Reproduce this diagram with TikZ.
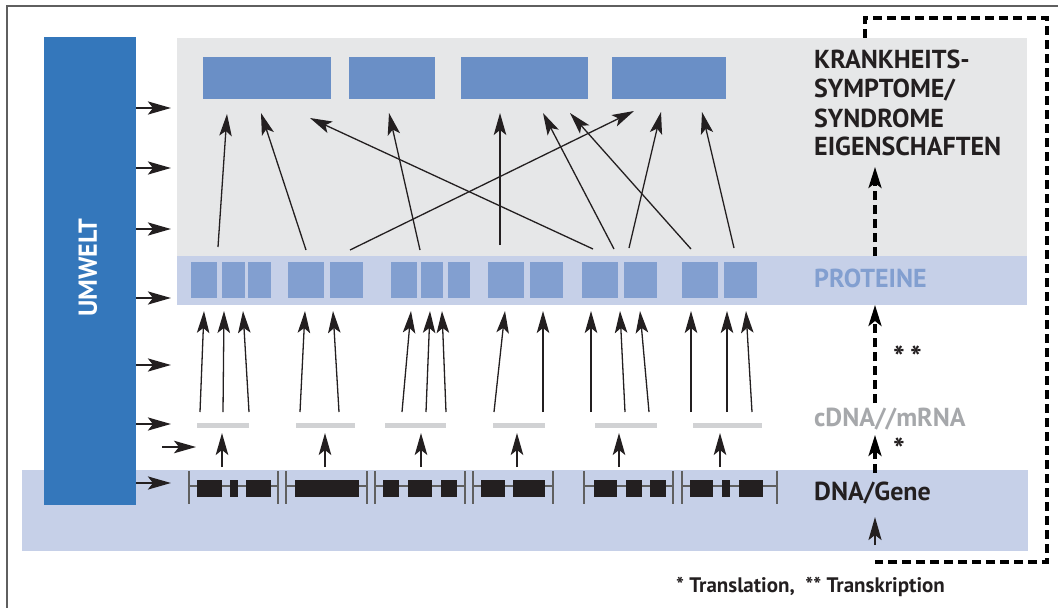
\documentclass[tikz,border=0pt]{standalone}
\usepackage{fontspec}
\setmainfont{PT Sans}
\usetikzlibrary{arrows.meta}
\definecolor{umweltblue}{HTML}{3477BB}
\definecolor{panelgray}{HTML}{E6E7E8}
\definecolor{bandblue}{HTML}{C6D0E8}
\definecolor{symblue}{HTML}{6A8FC6}
\definecolor{protblue}{HTML}{829FD0}
\definecolor{rnagray}{HTML}{D1D2D4}
\definecolor{rnatext}{HTML}{A6A8AB}
\definecolor{inkblack}{HTML}{231F20}
\definecolor{framegray}{HTML}{5F5F5F}
\tikzset{
  thinarrow/.style={draw=inkblack, line width=1.3pt, -{Stealth[length=22pt,width=12.5pt,inset=5pt]}},
  envarrow/.style={draw=inkblack, line width=2.6pt, -{Stealth[length=23pt,width=13pt,inset=5pt]}},
  dasharrow/.style={draw=black, line width=3.3pt, dash pattern=on 9pt off 5pt, -{Stealth[length=21pt,width=13pt,inset=5pt]}},
  loopline/.style={draw=black, line width=3.3pt, dash pattern=on 9pt off 5pt},
  geneline/.style={draw=framegray, line width=1.2pt},
  genetick/.style={draw=framegray, line width=1.8pt},
  levellabel/.style={anchor=base west, inner sep=0pt, font=\bfseries\fontsize{26}{29}\selectfont, text=inkblack},
}
\begin{document}
\begin{tikzpicture}[x=1pt,y=-1pt]
\useasboundingbox (0,0) rectangle (1058,608);
% frame
\draw[framegray, line width=1.6pt] (7,608) -- (7,6) -- (1058,6);
% dashed feedback loop (behind the panels)
\coordinate (loopstart) at (865,38);
\coordinate (loopend) at (875,562);
\draw[loopline] (loopstart) -- (865,18) -- (1047,18) -- (1047,562) -- (loopend);
% panels
\fill[panelgray] (177,38) rectangle (1027,256);
\fill[bandblue] (177,256) rectangle (1027,305);
\fill[bandblue] (22,470) rectangle (1028,551);
\fill[umweltblue] (44,37) rectangle (136,505);
\node[rotate=90, font=\bfseries\fontsize{26}{29}\selectfont, text=white] (umwelt) at (88,268) {UMWELT};
% symptom boxes
\foreach \a/\b in {203/331, 349/435, 461/588, 612/726}
  \fill[symblue] (\a,57) rectangle (\b,99);
% proteins
\foreach \a/\b in {191/217, 222/245, 248/271, 288/324, 330/363, 391/417, 421/443, 448/470,
                   488/524, 530/563, 582/618, 624/657, 682/718, 724/757}
  \fill[protblue] (\a,262) rectangle (\b,298);
% cDNA / mRNA
\foreach \a/\b in {197/249, 296/355, 385/446, 493/545, 595/657, 693/762}
  \fill[rnagray] (\a,423) rectangle (\b,428);
% genes
\foreach \l/\r in {189/278, 286/367, 375/465, 473/553, 584/673, 682/777}{
  \draw[geneline] (\l,486) -- (\r,486);
  \draw[genetick] (\l,471) -- (\l,504);
  \draw[genetick] (\r,471) -- (\r,504);
}
\foreach \a/\b in {197/222, 230/238, 246/271, 295/359, 383/399, 408/432, 441/457, 481/505,
                   513/545, 594/617, 626/642, 650/666, 690/713, 722/730, 739/763}
  \fill[inkblack] (\a,480) rectangle (\b,497);
% environment arrows
\foreach \y [count=\i] in {108, 168, 229, 298, 365, 424, 483}{
  \coordinate (env\i) at (136,\y);
  \coordinate (envtip\i) at (171,\y);
  \draw[envarrow] (env\i) -- (envtip\i);
}
\coordinate (env8) at (162,447);
\coordinate (envtip8) at (196,447);
\draw[thinarrow, line width=1.6pt] (env8) -- (envtip8);
% DNA -> mRNA
\foreach \x [count=\i] in {222, 325, 421, 517, 619, 720}{
  \coordinate (gene\i) at (\x,467);
  \coordinate (rna\i) at (\x,433);
  \draw[thinarrow, line width=1.6pt] (gene\i) -- (rna\i);
}
% mRNA -> proteins
\foreach \a/\b [count=\i] in {200/204, 223/224, 249/243, 300/305, 339/333, 402/411, 426/430, 446/442,
                              494/505, 543/543, 591/591, 625/620, 649/640, 691/691, 727/727, 752/746}{
  \coordinate (mrna\i) at (\a,412);
  \coordinate (prot\i) at (\b,311);
  \draw[thinarrow] (mrna\i) -- (prot\i);
}
% proteins -> symptoms
\foreach \a/\p/\b/\q [count=\i] in {218/247/227/114, 306/250/261/113, 350/250/634/111, 420/250/389/113,
                                    500/245/500/113, 593/249/310/118, 614/249/543/113, 629/248/661/112,
                                    691/249/570/113, 734/248/702/112}{
  \coordinate (pbase\i) at (\a,\p);
  \coordinate (stip\i) at (\b,\q);
  \draw[thinarrow] (pbase\i) -- (stip\i);
}
% labels
\node[levellabel] (krank) at (814,68) {KRANKHEITS-};
\node[levellabel] (sympt) at (814,97.5) {SYMPTOME/};
\node[levellabel] (syndr) at (814,127) {SYNDROME};
\node[levellabel] (eigen) at (814,155.5) {EIGENSCHAFTEN};
\node[levellabel, text=protblue] (prot) at (814,287) {PROTEINE};
\node[levellabel, text=rnatext] (cdna) at (814,426.5) {cDNA//mRNA};
\node[levellabel] (dna) at (814,500) {DNA/Gene};
\node[anchor=north west, inner sep=0pt, font=\bfseries\fontsize{31}{31}\selectfont, text=inkblack] (transk) at (893,346) {*\,*};
\node[anchor=north west, inner sep=0pt, font=\bfseries\fontsize{31}{31}\selectfont, text=inkblack] (transl) at (893,438) {*};
\node[anchor=base west, inner sep=0pt, font=\bfseries\fontsize{21}{24}\selectfont, text=inkblack] (legend) at (676,592) {* Translation,\ \ ** Transkription};
% level arrows
\coordinate (protstart) at (875,256);
\coordinate (eigtip) at (875,167);
\draw[dasharrow] (protstart) -- (eigtip);
\coordinate (rnastart) at (875,403);
\coordinate (bandtop) at (875,305);
\draw[dasharrow] (rnastart) -- (bandtop);
\coordinate (dnastart) at (875,473);
\coordinate (rnatip) at (875,435);
\draw[dasharrow] (dnastart) -- (rnatip);
\coordinate (loopin) at (875,545);
\coordinate (dnatip) at (875,517);
\draw[envarrow, line width=2.4pt] (loopin) -- (dnatip);
\end{tikzpicture}
\end{document}
